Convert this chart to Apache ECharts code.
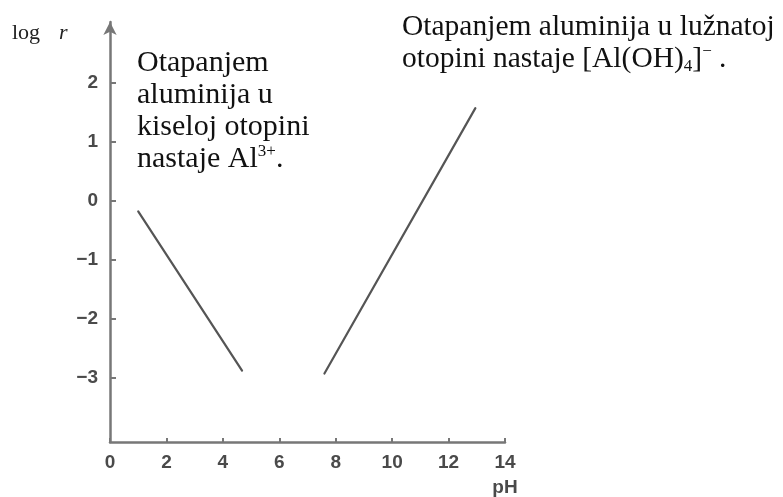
<!DOCTYPE html>
<html>
<head>
<meta charset="utf-8">
<script src="https://cdn.jsdelivr.net/npm/echarts@6/dist/echarts.min.js"></script>
<style>html,body{margin:0;padding:0;background:#fff;}#c{width:783px;height:497px;}</style>
</head>
<body>
<div id="c"></div>
<script>
// Data
var xTicks = [0, 2, 4, 6, 8, 10, 12, 14];
var yTicks = [-3, -2, -1, 0, 1, 2];
var acidPH = [1.0, 4.68];
var acidLogR = [-0.18, -2.88];
var basePH = [7.6, 12.95];
var baseLogR = [-2.93, 1.57];

function pairs(xs, ys) { return xs.map(function (x, i) { return [x, ys[i]]; }); }

var chart = echarts.init(document.getElementById('c'), null, {renderer: 'canvas'});
var serif = '"Liberation Serif","Times New Roman",serif';
var sans = '"Liberation Sans",Arial,sans-serif';
chart.setOption({
  animation: false,
  backgroundColor: '#ffffff',
  grid: {left: 110, right: 278, top: 22, bottom: 52, containLabel: false},
  xAxis: {
    type: 'value', min: 0, max: 14, interval: 2,
    name: 'pH', nameLocation: 'end', nameGap: 0,
    nameTextStyle: {fontFamily: sans, fontSize: 19, fontWeight: 'bold', color: '#4a4a4a', align: 'center', verticalAlign: 'top', padding: [36, 0, 0, 0]},
    axisLine: {show: true, onZero: false, lineStyle: {color: '#777', width: 2.5}},
    axisTick: {show: true, inside: true, length: 4, customValues: xTicks, lineStyle: {color: '#777', width: 2}},
    axisLabel: {customValues: xTicks, fontFamily: sans, fontSize: 19, fontWeight: 'bold', color: '#4a4a4a', margin: 11},
    splitLine: {show: false}
  },
  yAxis: {
    type: 'value', min: -4.09, max: 3.03,
    axisLine: {show: true, onZero: false, symbol: ['none', 'arrow'], symbolSize: [10, 13], lineStyle: {color: '#777', width: 2.5}},
    axisTick: {show: true, inside: true, length: 6, customValues: yTicks, lineStyle: {color: '#777', width: 2}},
    axisLabel: {customValues: yTicks, fontFamily: sans, fontSize: 19, fontWeight: 'bold', color: '#4a4a4a', margin: 12,
      formatter: function (v) { return String(v).replace('-', '\u2212'); }},
    splitLine: {show: false}
  },
  series: [
    {type: 'line', data: pairs(acidPH, acidLogR), symbol: 'none', lineStyle: {color: '#555', width: 2.2, cap: 'round'}},
    {type: 'line', data: pairs(basePH, baseLogR), symbol: 'none', lineStyle: {color: '#555', width: 2.2, cap: 'round'}}
  ],
  graphic: [
    {type: 'text', left: 12, top: 22, style: {
      text: '{a|log}{b|r}',
      rich: {a: {fontFamily: serif, fontSize: 22, fill: '#222', padding: [0, 19, 0, 0]}, b: {fontFamily: serif, fontSize: 22, fontStyle: 'italic', fill: '#222'}}
    }},
    {type: 'text', left: 137, top: 48, style: {
      text: '{t|Otapanjem}\n{t|aluminija u}\n{t|kiseloj otopini}\n{t|nastaje Al}{s|3+}{t|.}',
      rich: {
        t: {fontFamily: serif, fontSize: 30, lineHeight: 32, fill: '#111'},
        s: {fontFamily: serif, fontSize: 17, lineHeight: 32, fill: '#111', verticalAlign: 'top', padding: [0, 0, 10, 0]}
      }
    }},
    {type: 'text', left: 402, top: 12, style: {
      text: '{t|Otapanjem aluminija u lužnatoj}\n{t|otopini nastaje [Al(OH)}{sub|4}{t|]}{sup|\u2212}{t| .}',
      rich: {
        t: {fontFamily: serif, fontSize: 29.5, lineHeight: 32, fill: '#111'},
        sub: {fontFamily: serif, fontSize: 17, lineHeight: 32, fill: '#111', verticalAlign: 'bottom', padding: [8, 0, 0, 0]},
        sup: {fontFamily: serif, fontSize: 17, lineHeight: 32, fill: '#111', verticalAlign: 'top', padding: [0, 0, 10, 0]}
      }
    }}
  ]
});
</script>
</body>
</html>
